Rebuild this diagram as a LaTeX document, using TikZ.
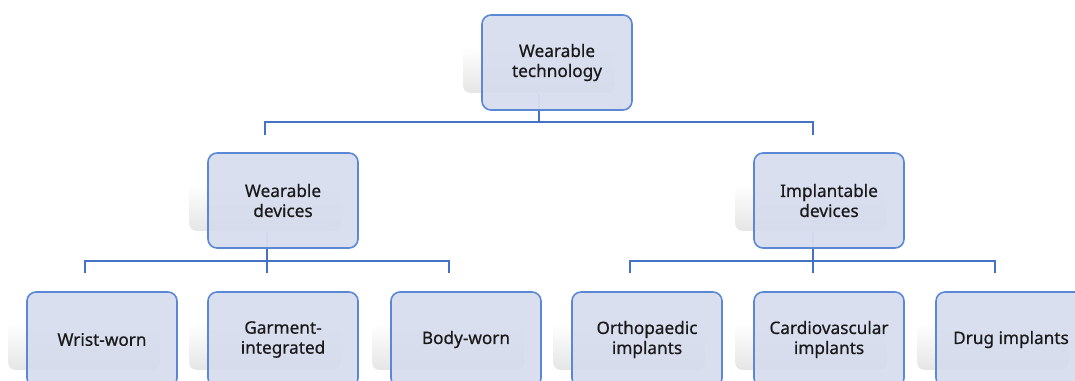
\documentclass[tikz,border=0pt]{standalone}
\usepackage{fontspec}
\setmainfont{Noto Sans}[FakeBold=0.6]
\usetikzlibrary{backgrounds}
\definecolor{boxfill}{HTML}{D5DBEE}
\definecolor{boxline}{HTML}{5B88D4}
\definecolor{connline}{HTML}{4472C4}
\definecolor{txt}{HTML}{1A1A1A}
\tikzset{
  orgbox/.style={draw=boxline, line width=1.6pt, fill=boxfill, fill opacity=0.88, text opacity=1,
    rounded corners=9pt, minimum width=150pt, minimum height=95pt, inner sep=0pt,
    align=center, text=txt, font=\fontsize{17.2}{20}\selectfont\bfseries},
  conn/.style={draw=connline, line width=2pt},
  faint/.style={draw=connline!35, line width=2pt},
  shadowbox/.style={top color=white, bottom color=black!10, rounded corners=7pt, draw=none}
}
\newcommand\orgshadow[1]{%
  \path[shadowbox] ([xshift=-18pt,yshift=-32pt]#1.north west) rectangle ([xshift=-18pt,yshift=18pt]#1.south east);}
\begin{document}
\begin{tikzpicture}[x=1pt,y=-1pt]
\useasboundingbox (0,0) rectangle (1075,380);
\clip (0,0) rectangle (1075,380);
% nodes
\node[orgbox] (top) at (557,62.5) {Wearable\\technology};
\node[orgbox] (wd) at (283,200.5) {Wearable\\devices};
\node[orgbox] (id) at (829,200.5) {Implantable\\devices};
\node[orgbox] (b1) at (102,339.5) {Wrist-worn};
\node[orgbox] (b2) at (283,339.5) {Garment-\\integrated};
\node[orgbox] (b3) at (466,339.5) {Body-worn};
\node[orgbox] (b4) at (647,339.5) {Orthopaedic\\implants};
\node[orgbox] (b5) at (829,339.5) {Cardiovascular\\implants};
\node[orgbox] (b6) at (1011,339.5) {Drug implants};
\begin{scope}[on background layer]
  \foreach \n in {top,wd,id,b1,b2,b3,b4,b5,b6}{\orgshadow{\n}}
  % top level connectors
  \coordinate (t0) at ([xshift=-18pt,yshift=17pt]top.south);
  \coordinate (t1) at (539,122);
  \coordinate (tl) at (265,122);
  \coordinate (tr) at (813,122);
  \coordinate (tld) at (265,135);
  \coordinate (trd) at (813,135);
  \draw[faint] (t0) -- (top.south -| t0);
  \draw[conn] (top.south -| t0) -- (t1);
  \draw[conn] (tld) -- (tl) -- (tr) -- (trd);
  % left group
  \coordinate (l0) at ([xshift=-16pt,yshift=17pt]wd.south);
  \coordinate (l1) at (267,261);
  \coordinate (ll) at (85,261);
  \coordinate (lr) at (449,261);
  \coordinate (lld) at (85,273);
  \coordinate (lmd) at (267,273);
  \coordinate (lrd) at (449,273);
  \draw[faint] (l0) -- (wd.south -| l0);
  \draw[conn] (wd.south -| l0) -- (lmd);
  \draw[conn] (lld) -- (ll) -- (lr) -- (lrd);
  % right group
  \coordinate (r0) at ([xshift=-16pt,yshift=17pt]id.south);
  \coordinate (rl) at (630,261);
  \coordinate (rr) at (995,261);
  \coordinate (rld) at (630,273);
  \coordinate (rmd) at (813,273);
  \coordinate (rrd) at (995,273);
  \draw[faint] (r0) -- (id.south -| r0);
  \draw[conn] (id.south -| r0) -- (rmd);
  \draw[conn] (rld) -- (rl) -- (rr) -- (rrd);
\end{scope}
\end{tikzpicture}
\end{document}
